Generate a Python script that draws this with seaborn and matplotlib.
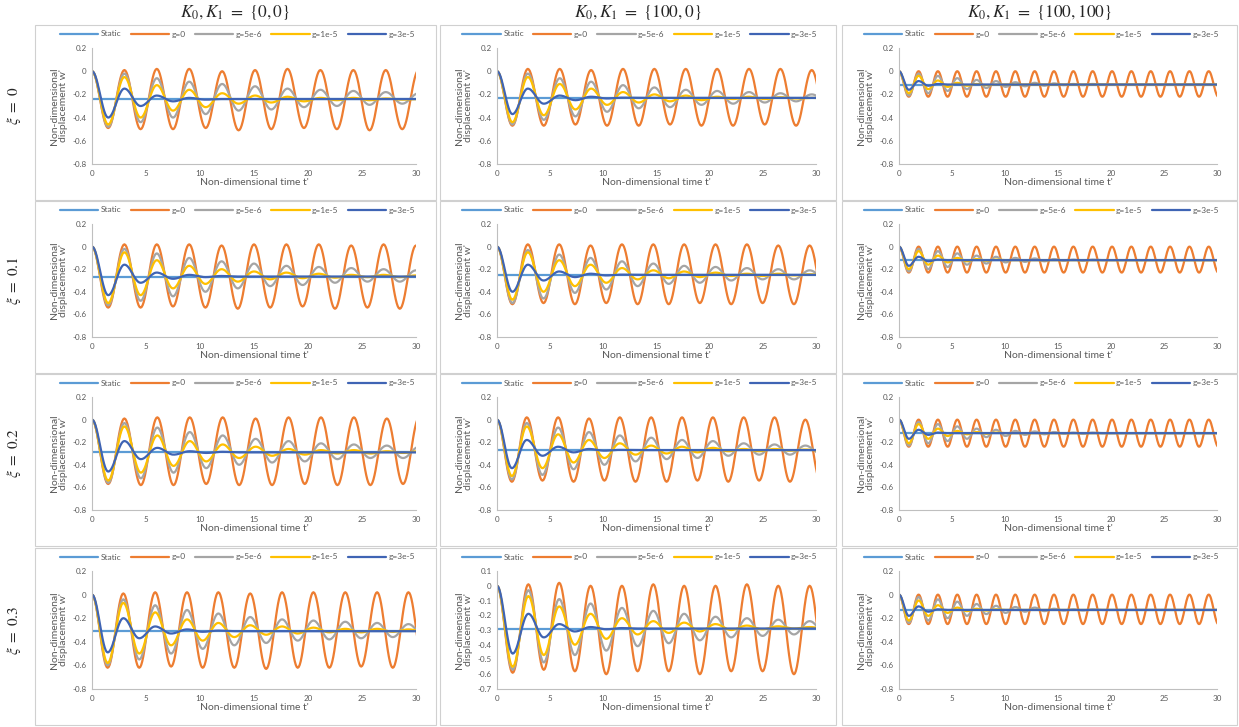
import numpy as np
import pandas as pd
import matplotlib
matplotlib.use("Agg")
import matplotlib.pyplot as plt
import seaborn as sns
from matplotlib.lines import Line2D
from matplotlib.patches import Rectangle
from matplotlib.ticker import FuncFormatter

sns.set_theme(style="white")
plt.rcParams["font.family"] = ["Lato", "DejaVu Sans"]
plt.rcParams["axes.unicode_minus"] = False
plt.rcParams["mathtext.fontset"] = "stix"

# ---- labels -------------------------------------------------------------
SERIES = ["Static", "g=0", "g=5e-6", "g=1e-5", "g=3e-5"]
COLORS = ["#5B9BD5", "#ED7D31", "#A5A5A5", "#FFC000", "#3F64B4"]
COL_TITLES = [r"$K_0, K_1\ =\ \{0,0\}$", r"$K_0, K_1\ =\ \{100,0\}$", r"$K_0, K_1\ =\ \{100,100\}$"]
ROW_TITLES = [r"$\xi\ =\ 0$", r"$\xi\ =\ 0.1$", r"$\xi\ =\ 0.2$", r"$\xi\ =\ 0.3$"]
X_TICKS = [0, 5, 10, 15, 20, 25, 30]

# ---- data ---------------------------------------------------------------
# peak times of the oscillation, then for every series the extrema
# (trough, peak, trough, ... , trough) that follow the start w'=0 at t'=0

# xi = 0, K = {0,0}
R0C0_STATIC = -0.24
R0C0_PEAK_T = [3.0, 6.0, 9.0, 12.05, 15.1, 18.1, 21.15, 24.2, 27.2, 30.25]
R0C0_G0 = [-0.49, 0.01, -0.50, 0.02, -0.50, 0.02, -0.49, 0.00, -0.51, 0.01, -0.50, 0.02, -0.49, 0.01, -0.50, 0.01, -0.51, 0.01, -0.50, 0.01, -0.50]
R0C0_G5E6 = [-0.48, -0.02, -0.44, -0.06, -0.40, -0.09, -0.37, -0.11, -0.34, -0.13, -0.33, -0.15, -0.31, -0.16, -0.30, -0.17, -0.29, -0.18, -0.28, -0.19, -0.28]
R0C0_G1E5 = [-0.46, -0.05, -0.40, -0.12, -0.34, -0.16, -0.31, -0.19, -0.28, -0.21, -0.27, -0.22, -0.26, -0.23, -0.25, -0.23, -0.25, -0.235, -0.245, -0.24, -0.245]
R0C0_G3E5 = [-0.40, -0.15, -0.30, -0.21, -0.26, -0.23, -0.245, -0.24, -0.24, -0.24, -0.24, -0.24, -0.24, -0.24, -0.24, -0.24, -0.24, -0.24, -0.24, -0.24, -0.24]

# xi = 0.1, K = {0,0}
R1C0_STATIC = -0.265
R1C0_PEAK_T = [3.0, 6.0, 9.0, 12.0, 15.0, 18.0, 21.0, 24.0, 27.0, 30.0]
R1C0_G0 = [-0.54, 0.02, -0.54, 0.02, -0.53, 0.02, -0.54, 0.01, -0.55, 0.02, -0.54, 0.02, -0.53, 0.02, -0.55, 0.01, -0.54, 0.02, -0.55, 0.01, -0.54]
R1C0_G5E6 = [-0.52, -0.02, -0.48, -0.06, -0.44, -0.10, -0.40, -0.13, -0.37, -0.15, -0.35, -0.17, -0.34, -0.18, -0.32, -0.19, -0.31, -0.20, -0.31, -0.21, -0.30]
R1C0_G1E5 = [-0.50, -0.05, -0.43, -0.12, -0.37, -0.17, -0.33, -0.20, -0.31, -0.22, -0.29, -0.23, -0.28, -0.24, -0.275, -0.25, -0.27, -0.25, -0.27, -0.255, -0.27]
R1C0_G3E5 = [-0.43, -0.16, -0.32, -0.23, -0.285, -0.25, -0.27, -0.26, -0.265, -0.265, -0.265, -0.265, -0.265, -0.265, -0.265, -0.265, -0.265, -0.265, -0.265, -0.265, -0.265]

# xi = 0.2, K = {0,0}
R2C0_STATIC = -0.29
R2C0_PEAK_T = [3.0, 6.05, 9.05, 12.1, 15.15, 18.2, 21.2, 24.25, 27.3, 30.3]
R2C0_G0 = [-0.57, 0.01, -0.58, 0.02, -0.58, 0.02, -0.57, 0.02, -0.58, 0.01, -0.58, 0.02, -0.57, 0.02, -0.58, 0.02, -0.58, 0.01, -0.57, 0.02, -0.58]
R2C0_G5E6 = [-0.56, -0.03, -0.52, -0.07, -0.47, -0.11, -0.43, -0.14, -0.40, -0.17, -0.38, -0.19, -0.37, -0.21, -0.35, -0.22, -0.34, -0.23, -0.34, -0.24, -0.33]
R2C0_G1E5 = [-0.54, -0.06, -0.47, -0.14, -0.41, -0.19, -0.37, -0.22, -0.34, -0.24, -0.32, -0.26, -0.31, -0.27, -0.30, -0.27, -0.30, -0.28, -0.295, -0.28, -0.295]
R2C0_G3E5 = [-0.46, -0.19, -0.35, -0.25, -0.31, -0.28, -0.295, -0.285, -0.29, -0.29, -0.29, -0.29, -0.29, -0.29, -0.29, -0.29, -0.29, -0.29, -0.29, -0.29, -0.29]

# xi = 0.3, K = {0,0}
R3C0_STATIC = -0.31
R3C0_PEAK_T = [2.9, 5.85, 8.8, 11.7, 14.65, 17.6, 20.5, 23.45, 26.4, 29.3]
R3C0_G0 = [-0.62, 0.01, -0.62, 0.02, -0.61, 0.02, -0.62, 0.02, -0.62, 0.01, -0.63, 0.02, -0.62, 0.02, -0.62, 0.02, -0.61, 0.02, -0.62, 0.02, -0.62]
R3C0_G5E6 = [-0.60, -0.04, -0.55, -0.09, -0.50, -0.13, -0.46, -0.16, -0.43, -0.19, -0.41, -0.21, -0.39, -0.22, -0.38, -0.23, -0.37, -0.24, -0.36, -0.25, -0.35]
R3C0_G1E5 = [-0.58, -0.07, -0.50, -0.15, -0.43, -0.21, -0.39, -0.24, -0.36, -0.26, -0.34, -0.27, -0.33, -0.28, -0.32, -0.29, -0.32, -0.29, -0.315, -0.295, -0.315]
R3C0_G3E5 = [-0.49, -0.20, -0.37, -0.27, -0.33, -0.295, -0.315, -0.305, -0.31, -0.31, -0.31, -0.31, -0.31, -0.31, -0.31, -0.31, -0.31, -0.31, -0.31, -0.31, -0.31]

# xi = 0, K = {100,0}
R0C1_STATIC = -0.23
R0C1_PEAK_T = [2.9, 5.9, 8.85, 11.85, 14.8, 17.75, 20.7, 23.7, 26.65, 29.6]
R0C1_G0 = [-0.47, 0.02, -0.47, 0.02, -0.46, 0.01, -0.47, 0.02, -0.47, 0.02, -0.46, 0.02, -0.47, 0.02, -0.47, 0.02, -0.46, 0.02, -0.47, 0.01, -0.47]
R0C1_G5E6 = [-0.46, -0.02, -0.42, -0.06, -0.39, -0.09, -0.35, -0.12, -0.32, -0.14, -0.31, -0.16, -0.29, -0.17, -0.28, -0.18, -0.27, -0.19, -0.26, -0.20, -0.26]
R0C1_G1E5 = [-0.44, -0.05, -0.38, -0.11, -0.33, -0.15, -0.29, -0.18, -0.27, -0.20, -0.26, -0.21, -0.25, -0.22, -0.24, -0.22, -0.24, -0.225, -0.235, -0.23, -0.235]
R0C1_G3E5 = [-0.37, -0.15, -0.28, -0.21, -0.25, -0.22, -0.235, -0.228, -0.23, -0.23, -0.23, -0.23, -0.23, -0.23, -0.23, -0.23, -0.23, -0.23, -0.23, -0.23, -0.23]

# xi = 0.1, K = {100,0}
R1C1_STATIC = -0.25
R1C1_PEAK_T = [2.9, 5.85, 8.8, 11.75, 14.7, 17.6, 20.55, 23.5, 26.45, 29.4]
R1C1_G0 = [-0.51, 0.02, -0.50, 0.02, -0.51, 0.01, -0.50, 0.02, -0.51, 0.02, -0.51, 0.02, -0.50, 0.02, -0.51, 0.02, -0.50, 0.01, -0.51, 0.01, -0.51]
R1C1_G5E6 = [-0.50, -0.03, -0.46, -0.07, -0.41, -0.10, -0.38, -0.13, -0.35, -0.15, -0.33, -0.17, -0.32, -0.18, -0.30, -0.19, -0.29, -0.20, -0.29, -0.21, -0.28]
R1C1_G1E5 = [-0.47, -0.05, -0.40, -0.12, -0.35, -0.16, -0.32, -0.19, -0.29, -0.21, -0.28, -0.22, -0.27, -0.23, -0.26, -0.24, -0.26, -0.24, -0.255, -0.245, -0.255]
R1C1_G3E5 = [-0.40, -0.16, -0.30, -0.22, -0.27, -0.24, -0.255, -0.248, -0.25, -0.25, -0.25, -0.25, -0.25, -0.25, -0.25, -0.25, -0.25, -0.25, -0.25, -0.25, -0.25]

# xi = 0.2, K = {100,0}
R2C1_STATIC = -0.27
R2C1_PEAK_T = [2.8, 5.75, 8.65, 11.55, 14.5, 17.4, 20.3, 23.2, 26.1, 29.0]
R2C1_G0 = [-0.55, 0.02, -0.54, 0.02, -0.55, 0.01, -0.54, 0.02, -0.55, 0.02, -0.55, 0.02, -0.54, 0.02, -0.55, 0.02, -0.54, 0.02, -0.55, 0.00, -0.55]
R2C1_G5E6 = [-0.53, -0.03, -0.49, -0.07, -0.44, -0.11, -0.40, -0.14, -0.37, -0.16, -0.35, -0.18, -0.34, -0.19, -0.32, -0.21, -0.31, -0.22, -0.31, -0.23, -0.30]
R2C1_G1E5 = [-0.50, -0.06, -0.43, -0.13, -0.38, -0.18, -0.34, -0.21, -0.31, -0.23, -0.30, -0.24, -0.29, -0.25, -0.28, -0.26, -0.28, -0.26, -0.275, -0.265, -0.275]
R2C1_G3E5 = [-0.43, -0.18, -0.32, -0.24, -0.29, -0.26, -0.275, -0.268, -0.27, -0.27, -0.27, -0.27, -0.27, -0.27, -0.27, -0.27, -0.27, -0.27, -0.27, -0.27, -0.27]

# xi = 0.3, K = {100,0}
R3C1_STATIC = -0.29
R3C1_PEAK_T = [2.95, 5.85, 8.8, 11.75, 14.7, 17.6, 20.55, 23.5, 26.45, 29.4]
R3C1_G0 = [-0.59, 0.01, -0.57, 0.02, -0.58, 0.00, -0.60, 0.00, -0.58, 0.01, -0.58, 0.00, -0.60, 0.00, -0.58, 0.01, -0.58, 0.00, -0.60, 0.00, -0.59]
R3C1_G5E6 = [-0.57, -0.03, -0.52, -0.09, -0.47, -0.12, -0.44, -0.15, -0.41, -0.17, -0.39, -0.19, -0.37, -0.21, -0.35, -0.22, -0.34, -0.23, -0.33, -0.24, -0.32]
R3C1_G1E5 = [-0.55, -0.07, -0.47, -0.14, -0.40, -0.19, -0.36, -0.22, -0.33, -0.24, -0.32, -0.25, -0.31, -0.26, -0.30, -0.27, -0.295, -0.275, -0.29, -0.28, -0.29]
R3C1_G3E5 = [-0.46, -0.19, -0.35, -0.26, -0.31, -0.28, -0.295, -0.287, -0.29, -0.29, -0.29, -0.29, -0.29, -0.29, -0.29, -0.29, -0.29, -0.29, -0.29, -0.29, -0.29]

# K = {100,100}: faster oscillation, same peak times in all four rows
C2_PEAK_T = [1.85, 3.67, 5.5, 7.32, 9.15, 10.97, 12.8, 14.62, 16.45, 18.27, 20.1, 21.92, 23.75, 25.57, 27.4, 29.22]

R0C2_STATIC = -0.115
R0C2_G0 = [-0.22, 0.0, -0.22, 0.0, -0.22, 0.0, -0.22, 0.0, -0.22, 0.0, -0.22, 0.0, -0.22, 0.0, -0.22, 0.0,
           -0.22, 0.0, -0.22, 0.0, -0.22, 0.0, -0.22, 0.0, -0.22, 0.0, -0.22, 0.0, -0.22, 0.0, -0.22, 0.0, -0.22]
R0C2_G5E6 = [-0.21, -0.02, -0.19, -0.04, -0.17, -0.06, -0.155, -0.075, -0.145, -0.085, -0.135, -0.095, -0.13, -0.10, -0.125, -0.105,
             -0.12, -0.11, -0.12, -0.11, -0.115, -0.115, -0.115, -0.115, -0.115, -0.115, -0.115, -0.115, -0.115, -0.115, -0.115, -0.115, -0.115]
R0C2_G1E5 = [-0.19, -0.04, -0.155, -0.08, -0.135, -0.10, -0.125, -0.11, -0.12, -0.115, -0.115, -0.115, -0.115, -0.115, -0.115, -0.115,
             -0.115, -0.115, -0.115, -0.115, -0.115, -0.115, -0.115, -0.115, -0.115, -0.115, -0.115, -0.115, -0.115, -0.115, -0.115, -0.115, -0.115]
R0C2_G3E5 = [-0.16, -0.085, -0.125, -0.11, -0.115, -0.115, -0.115, -0.115, -0.115, -0.115, -0.115, -0.115, -0.115, -0.115, -0.115, -0.115,
             -0.115, -0.115, -0.115, -0.115, -0.115, -0.115, -0.115, -0.115, -0.115, -0.115, -0.115, -0.115, -0.115, -0.115, -0.115, -0.115, -0.115]

R1C2_STATIC = -0.12
R1C2_G0 = [-0.23, 0.0, -0.23, 0.0, -0.23, 0.0, -0.23, 0.0, -0.23, 0.0, -0.23, 0.0, -0.23, 0.0, -0.23, 0.0,
           -0.23, 0.0, -0.23, 0.0, -0.23, 0.0, -0.23, 0.0, -0.23, 0.0, -0.23, 0.0, -0.23, 0.0, -0.23, 0.0, -0.23]
R1C2_G5E6 = [-0.22, -0.02, -0.20, -0.04, -0.18, -0.06, -0.16, -0.08, -0.15, -0.09, -0.14, -0.10, -0.135, -0.105, -0.13, -0.11,
             -0.125, -0.115, -0.125, -0.115, -0.12, -0.12, -0.12, -0.12, -0.12, -0.12, -0.12, -0.12, -0.12, -0.12, -0.12, -0.12, -0.12]
R1C2_G1E5 = [-0.20, -0.04, -0.16, -0.08, -0.14, -0.10, -0.13, -0.11, -0.125, -0.115, -0.12, -0.12, -0.12, -0.12, -0.12, -0.12,
             -0.12, -0.12, -0.12, -0.12, -0.12, -0.12, -0.12, -0.12, -0.12, -0.12, -0.12, -0.12, -0.12, -0.12, -0.12, -0.12, -0.12]
R1C2_G3E5 = [-0.17, -0.09, -0.13, -0.115, -0.12, -0.12, -0.12, -0.12, -0.12, -0.12, -0.12, -0.12, -0.12, -0.12, -0.12, -0.12,
             -0.12, -0.12, -0.12, -0.12, -0.12, -0.12, -0.12, -0.12, -0.12, -0.12, -0.12, -0.12, -0.12, -0.12, -0.12, -0.12, -0.12]

R2C2_STATIC = -0.12
R2C2_G0 = [-0.24, 0.0, -0.24, 0.0, -0.24, 0.0, -0.24, 0.0, -0.24, 0.0, -0.24, 0.0, -0.24, 0.0, -0.24, 0.0,
           -0.24, 0.0, -0.24, 0.0, -0.24, 0.0, -0.24, 0.0, -0.24, 0.0, -0.24, 0.0, -0.24, 0.0, -0.24, 0.0, -0.24]
R2C2_G5E6 = [-0.23, -0.02, -0.21, -0.04, -0.19, -0.06, -0.17, -0.08, -0.155, -0.09, -0.145, -0.10, -0.135, -0.105, -0.13, -0.11,
             -0.125, -0.115, -0.125, -0.115, -0.12, -0.12, -0.12, -0.12, -0.12, -0.12, -0.12, -0.12, -0.12, -0.12, -0.12, -0.12, -0.12]
R2C2_G1E5 = [-0.21, -0.04, -0.17, -0.08, -0.145, -0.10, -0.13, -0.11, -0.125, -0.115, -0.12, -0.12, -0.12, -0.12, -0.12, -0.12,
             -0.12, -0.12, -0.12, -0.12, -0.12, -0.12, -0.12, -0.12, -0.12, -0.12, -0.12, -0.12, -0.12, -0.12, -0.12, -0.12, -0.12]
R2C2_G3E5 = [-0.17, -0.09, -0.135, -0.115, -0.12, -0.12, -0.12, -0.12, -0.12, -0.12, -0.12, -0.12, -0.12, -0.12, -0.12, -0.12,
             -0.12, -0.12, -0.12, -0.12, -0.12, -0.12, -0.12, -0.12, -0.12, -0.12, -0.12, -0.12, -0.12, -0.12, -0.12, -0.12, -0.12]

R3C2_STATIC = -0.13
R3C2_G0 = [-0.25, 0.0, -0.25, 0.0, -0.25, 0.0, -0.25, 0.0, -0.25, 0.0, -0.25, 0.0, -0.25, 0.0, -0.25, 0.0,
           -0.25, 0.0, -0.25, 0.0, -0.25, 0.0, -0.25, 0.0, -0.25, 0.0, -0.25, 0.0, -0.25, 0.0, -0.25, 0.0, -0.25]
R3C2_G5E6 = [-0.24, -0.02, -0.22, -0.04, -0.20, -0.06, -0.18, -0.08, -0.165, -0.095, -0.155, -0.105, -0.145, -0.11, -0.14, -0.12,
             -0.135, -0.125, -0.135, -0.125, -0.13, -0.13, -0.13, -0.13, -0.13, -0.13, -0.13, -0.13, -0.13, -0.13, -0.13, -0.13, -0.13]
R3C2_G1E5 = [-0.22, -0.05, -0.18, -0.09, -0.155, -0.11, -0.14, -0.12, -0.135, -0.125, -0.13, -0.13, -0.13, -0.13, -0.13, -0.13,
             -0.13, -0.13, -0.13, -0.13, -0.13, -0.13, -0.13, -0.13, -0.13, -0.13, -0.13, -0.13, -0.13, -0.13, -0.13, -0.13, -0.13]
R3C2_G3E5 = [-0.18, -0.10, -0.145, -0.125, -0.13, -0.13, -0.13, -0.13, -0.13, -0.13, -0.13, -0.13, -0.13, -0.13, -0.13, -0.13,
             -0.13, -0.13, -0.13, -0.13, -0.13, -0.13, -0.13, -0.13, -0.13, -0.13, -0.13, -0.13, -0.13, -0.13, -0.13, -0.13, -0.13]

# y range per panel (row, col) -> (min, max, step)
Y_RANGE = {(3, 1): (-0.7, 0.1, 0.1)}
Y_DEFAULT = (-0.8, 0.2, 0.2)

PANELS = [
    [(R0C0_STATIC, R0C0_PEAK_T, [R0C0_G0, R0C0_G5E6, R0C0_G1E5, R0C0_G3E5]),
     (R0C1_STATIC, R0C1_PEAK_T, [R0C1_G0, R0C1_G5E6, R0C1_G1E5, R0C1_G3E5]),
     (R0C2_STATIC, C2_PEAK_T, [R0C2_G0, R0C2_G5E6, R0C2_G1E5, R0C2_G3E5])],
    [(R1C0_STATIC, R1C0_PEAK_T, [R1C0_G0, R1C0_G5E6, R1C0_G1E5, R1C0_G3E5]),
     (R1C1_STATIC, R1C1_PEAK_T, [R1C1_G0, R1C1_G5E6, R1C1_G1E5, R1C1_G3E5]),
     (R1C2_STATIC, C2_PEAK_T, [R1C2_G0, R1C2_G5E6, R1C2_G1E5, R1C2_G3E5])],
    [(R2C0_STATIC, R2C0_PEAK_T, [R2C0_G0, R2C0_G5E6, R2C0_G1E5, R2C0_G3E5]),
     (R2C1_STATIC, R2C1_PEAK_T, [R2C1_G0, R2C1_G5E6, R2C1_G1E5, R2C1_G3E5]),
     (R2C2_STATIC, C2_PEAK_T, [R2C2_G0, R2C2_G5E6, R2C2_G1E5, R2C2_G3E5])],
    [(R3C0_STATIC, R3C0_PEAK_T, [R3C0_G0, R3C0_G5E6, R3C0_G1E5, R3C0_G3E5]),
     (R3C1_STATIC, R3C1_PEAK_T, [R3C1_G0, R3C1_G5E6, R3C1_G1E5, R3C1_G3E5]),
     (R3C2_STATIC, C2_PEAK_T, [R3C2_G0, R3C2_G5E6, R3C2_G1E5, R3C2_G3E5])],
]


def extrema_curve(peak_t, values):
    """smooth (Excel-like) line through the read extrema"""
    pk = [0.0] + list(peak_t)
    te = [0.0]
    for a, b in zip(pk[:-1], pk[1:]):
        te += [(a + b) / 2, b]
    te.append(pk[-1] + (pk[-1] - pk[-2]) / 2)
    ve = [0.0] + list(values)
    assert len(te) == len(ve), (len(te), len(ve))
    ts, ws = [], []
    s = np.linspace(0, 1, 16, endpoint=False)
    for i in range(len(te) - 1):
        ts.append(te[i] + (te[i + 1] - te[i]) * s)
        ws.append(ve[i] + (ve[i + 1] - ve[i]) * (1 - np.cos(np.pi * s)) / 2)
    ts.append([te[-1]])
    ws.append([ve[-1]])
    return np.concatenate(ts), np.concatenate(ws)


def tick_fmt(v, pos):
    v = round(v, 2)
    return "0" if v == 0 else f"{v:g}"


# ---- layout (pixels of the 1239 x 727 figure) ---------------------------
W, H = 1239, 727
COL_X = [(35, 436), (440, 836), (842, 1237)]
ROW_Y = [(25, 200), (201, 373), (374, 546), (548, 725)]
GREY_TXT = "#595959"

fig = plt.figure(figsize=(W / 100, H / 100), dpi=100)

for r, (y0, y1) in enumerate(ROW_Y):
    for c, (x0, x1) in enumerate(COL_X):
        static, peak_t, series = PANELS[r][c]

        # panel frame
        fig.patches.append(Rectangle((x0 / W, 1 - y1 / H), (x1 - x0) / W, (y1 - y0) / H,
                                     transform=fig.transFigure, fill=False,
                                     edgecolor="#D0D0D0", linewidth=0.8))

        ax_l, ax_r = x0 + 57, x1 - 20
        ax_t, ax_b = y0 + 23, y1 - 36
        ax = fig.add_axes([ax_l / W, 1 - ax_b / H, (ax_r - ax_l) / W, (ax_b - ax_t) / H])

        frames = [pd.DataFrame({"t": [0.0, 30.0], "w": [static, static], "series": SERIES[0]})]
        for name, vals in zip(SERIES[1:], series):
            t, w = extrema_curve(peak_t, vals)
            frames.append(pd.DataFrame({"t": t, "w": w, "series": name}))
        df = pd.concat(frames, ignore_index=True)

        sns.lineplot(data=df, x="t", y="w", hue="series", hue_order=SERIES,
                     palette=COLORS, sort=False, estimator=None, linewidth=1.6,
                     legend=False, ax=ax)

        ymin, ymax, ystep = Y_RANGE.get((r, c), Y_DEFAULT)
        ax.set_xlim(0, 30)
        ax.set_ylim(ymin, ymax)
        ax.set_xticks(X_TICKS)
        ax.set_yticks(np.round(np.arange(ymin, ymax + ystep / 2, ystep), 2))
        ax.yaxis.set_major_formatter(FuncFormatter(tick_fmt))
        ax.tick_params(length=0, pad=4, labelsize=5.8, colors=GREY_TXT)
        for side in ["top", "right"]:
            ax.spines[side].set_visible(False)
        for side in ["left", "bottom"]:
            ax.spines[side].set_color("#BFBFBF")
            ax.spines[side].set_linewidth(0.8)
        ax.set_xlabel("Non-dimensional time t'", fontsize=7.5, color=GREY_TXT, labelpad=1)
        ax.set_ylabel("Non-dimensional\ndisplacement w'", fontsize=7.5, color=GREY_TXT,
                      labelpad=3, linespacing=1.0)

        handles = [Line2D([0], [0], color=col, linewidth=1.6) for col in COLORS]
        ax.legend(handles, SERIES, ncol=5, loc="center",
                  bbox_to_anchor=((x0 + x1) / 2 / W + 2 / W, 1 - (y0 + 9) / H),
                  bbox_transform=fig.transFigure, frameon=False, fontsize=6,
                  handlelength=4.6, handletextpad=0.3, columnspacing=1.1,
                  labelcolor=GREY_TXT, borderaxespad=0, borderpad=0)

        if c == 0:
            fig.text(14 / W, 1 - (ax_t + ax_b) / 2 / H, ROW_TITLES[r], rotation=90,
                     ha="center", va="center", fontsize=11)

for c, (x0, x1) in enumerate(COL_X):
    fig.text((x0 + x1) / 2 / W, 1 - 13 / H, COL_TITLES[c], ha="center", va="center", fontsize=12.5)

fig.savefig("out.png", dpi=100)
